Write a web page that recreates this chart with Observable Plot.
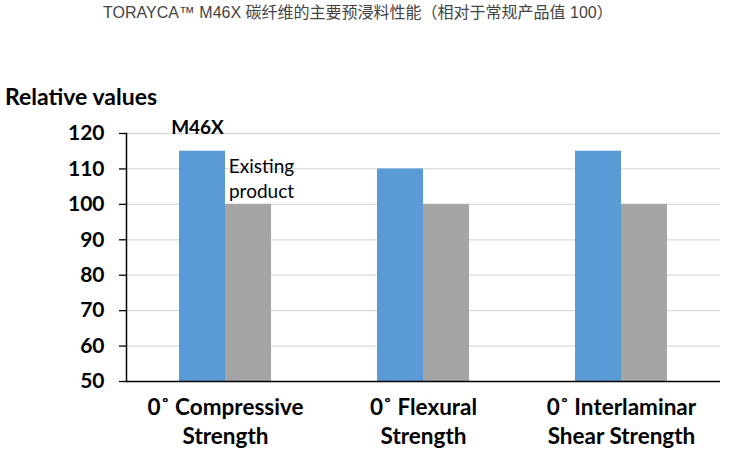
<!DOCTYPE html>
<html><head><meta charset="utf-8">
<script src="https://cdn.jsdelivr.net/npm/d3@7"></script>
<script src="https://cdn.jsdelivr.net/npm/@observablehq/plot@0.6"></script>
<style>
body{margin:0;background:#fff;}
#wrap{position:relative;width:740px;height:464px;overflow:hidden;}
#title{height:30px;font:16px "Liberation Sans","Noto Sans CJK SC",Arial,sans-serif;color:#444;padding-left:103px;line-height:25px;white-space:nowrap;}
#ylab{position:absolute;left:5px;top:82px;font:bold 23px Lato,sans-serif;color:#000;}
#chart svg{display:block;}
</style></head><body>
<div id="wrap">
<div id="title">TORAYCA™ M46X 碳纤维的主要预浸料性能（相对于常规产品值 100）</div>
<div id="ylab">Relative values</div>
<div id="chart"></div>
</div>
<script>
const categories = ["0˚ Compressive\nStrength", "0˚ Flexural\nStrength", "0˚ Interlaminar\nShear Strength"];
const seriesNames = ["M46X", "Existing product"];
const m46xValues = [115, 110, 115];
const existingValues = [100, 100, 100];
const yDomain = [50, 120];
const yTicks = [50, 60, 70, 80, 90, 100, 110, 120];
const colors = ["#5B9BD5", "#A5A5A5"];
const annotationLabels = ["M46X", "Existing\nproduct"];
const annotationValues = [120, 113.8];

const data = categories.flatMap((c, i) => [
  {category: c, series: seriesNames[0], value: m46xValues[i]},
  {category: c, series: seriesNames[1], value: existingValues[i]}
]);
const notes = seriesNames.map((s, i) => ({category: categories[0], series: s, value: annotationValues[i], label: annotationLabels[i]}));

const chart = Plot.plot({
  width: 740, height: 434,
  marginTop: 103, marginBottom: 83, marginLeft: 125, marginRight: 20,
  style: {fontFamily: "Lato, sans-serif", color: "#000", background: "#fff"},
  fx: {domain: categories, padding: 0, label: null},
  x: {domain: seriesNames, paddingInner: 0, paddingOuter: 1.13, axis: null},
  y: {domain: yDomain, axis: null},
  color: {domain: seriesNames, range: colors},
  marks: [
    Plot.gridY(yTicks.slice(1), {stroke: "#d9d9d9", strokeOpacity: 1, strokeWidth: 1.3}),
    Plot.barY(data, {fx: "category", x: "series", y1: () => yDomain[0], y2: "value", fill: "series"}),
    Plot.ruleY([yDomain[0]], {stroke: "#000", strokeWidth: 1.5}),
    Plot.frame({anchor: "left", facetAnchor: "left", stroke: "#000", strokeWidth: 1.5}),
    Plot.axisY(yTicks, {tickSize: 7, tickPadding: 15, fontSize: 21, fontWeight: "bold", label: null, strokeWidth: 1.3}),
    Plot.axisFx({anchor: "bottom", tickSize: 0, tickPadding: 13, fontSize: 22.5, fontWeight: "bold", lineHeight: 1.29, label: null}),
    Plot.text(notes.slice(0, 1), {fx: "category", x: "series", y: "value", text: "label", lineAnchor: "bottom", dy: 0, dx: -5, fontSize: 19, fontWeight: "bold"}),
    Plot.text(notes.slice(1), {fx: "category", x: "series", y: "value", text: "label", lineAnchor: "top", dx: 13, fontSize: 19, lineHeight: 1.32})
  ]
});
document.getElementById("chart").appendChild(chart);
</script>
</body></html>
